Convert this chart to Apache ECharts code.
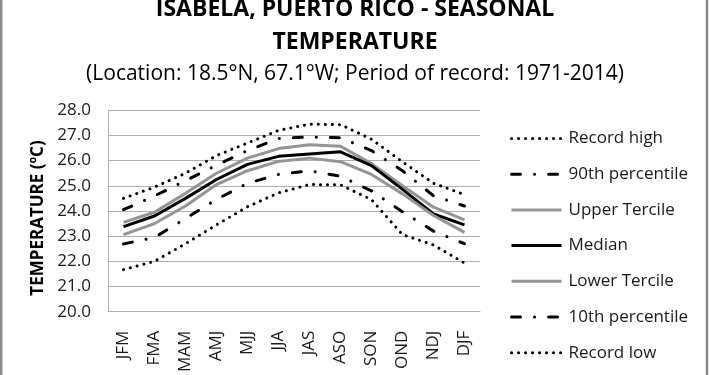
<!DOCTYPE html>
<html>
<head>
<meta charset="utf-8">
<title>Isabela seasonal temperature</title>
<script src="https://cdn.jsdelivr.net/npm/echarts@6.0.0/dist/echarts.min.js"></script>
<style>
	html, body {
		margin: 0;
		padding: 0;
		background: #fff;
	}
	#chart_temp {
		width: 710px;
		height: 375px;
	}
</style>
</head>
<body>
<div id="chart_temp"></div>
<script>
	// 3-month seasons
	var seasons = ['JFM', 'FMA', 'MAM', 'AMJ', 'MJJ', 'JJA', 'JAS', 'ASO', 'SON', 'OND', 'NDJ', 'DJF']
	var recordHigh = [24.5, 24.95, 25.5, 26.2, 26.7, 27.2, 27.45, 27.43, 26.85, 25.95, 25.1, 24.65]
	var pct90 = [24.05, 24.6, 25.2, 25.82, 26.4, 26.88, 26.94, 26.91, 26.4, 25.6, 24.6, 24.2]
	var upperTercile = [23.55, 23.95, 24.7, 25.5, 26.1, 26.48, 26.63, 26.57, 25.88, 25.0, 24.15, 23.65]
	var median = [23.38, 23.8, 24.5, 25.25, 25.85, 26.17, 26.26, 26.35, 25.8, 24.86, 23.88, 23.45]
	var lowerTercile = [23.06, 23.5, 24.2, 25.05, 25.6, 25.97, 26.1, 25.96, 25.45, 24.68, 23.82, 23.15]
	var pct10 = [22.69, 22.95, 23.7, 24.46, 25.1, 25.45, 25.6, 25.38, 24.8, 23.97, 23.2, 22.7]
	var recordLow = [21.67, 22.0, 22.7, 23.45, 24.17, 24.72, 25.05, 25.04, 24.45, 23.06, 22.65, 21.93]

	var font = 'Open Sans'
	var dotted = [0.1, 6.9]
	var dashDot = [9, 14, 0.1, 14]

	function lineSeries(name, data, color, dash) {
		return {
			name: name,
			type: 'line',
			data: data,
			symbol: 'none',
			smooth: false,
			lineStyle: {
				color: color,
				width: 3,
				type: dash || 'solid',
				cap: dash ? 'round' : 'butt'
			},
			itemStyle: {
				color: color
			}
		}
	}

	function initChart() {
		var chart = echarts.init(document.getElementById('chart_temp'))
		var option = {
			animation: false,
			backgroundColor: '#fff',
			title: [{
				text: 'ISABELA, PUERTO RICO - SEASONAL\nTEMPERATURE',
				left: 'center',
				top: -7,
				padding: 0,
				textStyle: {
					fontFamily: font,
					fontSize: 23,
					fontWeight: 'bold',
					lineHeight: 33,
					color: '#000'
				}
			}, {
				text: '(Location: 18.5°N, 67.1°W; Period of record: 1971-2014)',
				left: 'center',
				top: 64,
				padding: 0,
				textStyle: {
					fontFamily: font,
					fontSize: 21,
					fontWeight: 'normal',
					lineHeight: 21,
					color: '#000'
				}
			}],
			legend: {
				orient: 'vertical',
				left: 505,
				top: 125,
				itemWidth: 50,
				itemHeight: 17,
				itemGap: 18.7,
				// line only, no marker in the key
				itemStyle: {
					opacity: 0
				},
				lineStyle: {
					width: 3
				},
				textStyle: {
					fontFamily: font,
					fontSize: 17,
					lineHeight: 17,
					color: '#1a1a1a',
					padding: [0, 0, 0, 2]
				},
				data: ['Record high', '90th percentile', 'Upper Tercile', 'Median', 'Lower Tercile', '10th percentile', 'Record low']
			},
			grid: {
				left: 108,
				right: 230,
				top: 110.3,
				bottom: 45.7
			},
			xAxis: {
				type: 'category',
				data: seasons,
				boundaryGap: true,
				axisLine: {
					lineStyle: {
						color: '#b0b0b0'
					}
				},
				axisTick: {
					show: false
				},
				axisLabel: {
					rotate: 90,
					margin: 19,
					interval: 0,
					fontFamily: font,
					fontSize: 17,
					color: '#1a1a1a'
				}
			},
			yAxis: {
				type: 'value',
				min: 20,
				max: 28,
				interval: 1,
				name: 'TEMPERATURE (ºC)',
				nameLocation: 'middle',
				nameGap: 60,
				nameTextStyle: {
					fontFamily: font,
					fontSize: 17,
					fontWeight: 'bold',
					color: '#000',
					padding: [0, 14, 0, 0]
				},
				axisLine: {
					show: true,
					lineStyle: {
						color: '#b0b0b0'
					}
				},
				axisTick: {
					show: false
				},
				axisLabel: {
					margin: 17,
					fontFamily: font,
					fontSize: 17,
					color: '#1a1a1a',
					formatter: function(v) {
						return v.toFixed(1)
					}
				},
				splitLine: {
					lineStyle: {
						color: '#b0b0b0'
					}
				}
			},
			// chart area frame
			graphic: [{
				type: 'rect',
				shape: { x: 1.2, y: -10, width: 705.8, height: 400 },
				style: { fill: 'none', stroke: '#8a8a8a', lineWidth: 2.5 },
				silent: true
			}],
			series: [
				lineSeries('Record high', recordHigh, '#000', dotted),
				lineSeries('90th percentile', pct90, '#000', dashDot),
				lineSeries('Upper Tercile', upperTercile, '#959595'),
				lineSeries('Median', median, '#000'),
				lineSeries('Lower Tercile', lowerTercile, '#959595'),
				lineSeries('10th percentile', pct10, '#000', dashDot),
				lineSeries('Record low', recordLow, '#000', dotted)
			]
		}
		chart.setOption(option)
	}

	initChart()
</script>
</body>
</html>
